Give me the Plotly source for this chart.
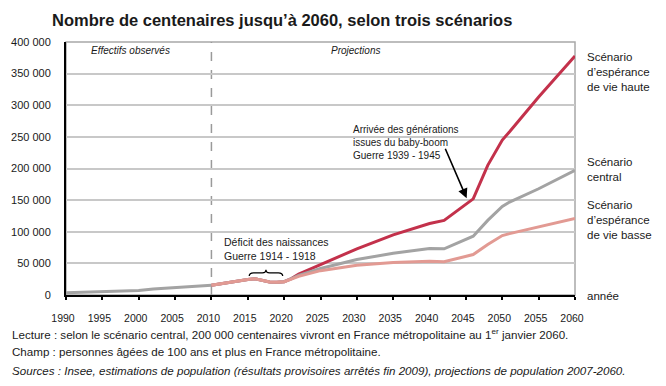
import plotly.graph_objects as go

# ---- data ----
years_obs = [1990, 1992, 1995, 1998, 2000, 2002, 2005, 2008, 2010]
obs = [3500, 4000, 5000, 6200, 7000, 9500, 12000, 14000, 15500]

years_proj = [2010, 2012, 2015, 2016, 2018, 2019, 2020, 2021, 2022, 2025, 2030,
              2035, 2040, 2042, 2046, 2048, 2050, 2051, 2055, 2060]
high = [15500, 19500, 24500, 25500, 20500, 20000, 21000, 26000, 33000, 48000, 73000,
        95000, 113000, 118000, 152000, 205000, 245000, 258000, 313000, 378000]
central = [15500, 19500, 24500, 25500, 20500, 20000, 21000, 26000, 31000, 42000, 56000,
           66000, 73500, 73000, 93000, 118000, 140000, 147000, 168000, 197000]
low = [15500, 19500, 24500, 25500, 20500, 20000, 21000, 25000, 29500, 38500, 47000,
       51500, 53500, 52500, 64000, 80000, 94000, 97000, 108000, 121000]

x_ticks = list(range(1990, 2061, 5))
y_ticks = list(range(0, 400001, 50000))
y_ticktext = ["0" if v == 0 else f"{v // 1000} 000" for v in y_ticks]

FONT = "Liberation Sans, Arial, sans-serif"
C_HIGH = "#C3314B"
C_CENT = "#A3A3A3"
C_LOW = "#E29A93"
C_OBS = "#A3A3A3"

W, H = 666, 386
L, R, T, B = 66, 91, 42, 91
PW, PH = W - L - R, H - T - B


def px(x):
    return (x - L) / PW


def py(y):
    return (H - B - y) / PH


fig = go.Figure()
fig.add_trace(go.Scatter(x=years_obs, y=obs, mode="lines",
                         line=dict(color=C_OBS, width=3), hoverinfo="skip"))
fig.add_trace(go.Scatter(x=years_proj, y=high, mode="lines",
                         line=dict(color=C_HIGH, width=3), hoverinfo="skip"))
fig.add_trace(go.Scatter(x=years_proj, y=central, mode="lines",
                         line=dict(color=C_CENT, width=3), hoverinfo="skip"))
fig.add_trace(go.Scatter(x=years_proj, y=low, mode="lines",
                         line=dict(color=C_LOW, width=3), hoverinfo="skip"))

shapes = [
    dict(type="rect", xref="paper", yref="paper", x0=0, x1=1, y0=0, y1=1,
         line=dict(color="#A8A8A8", width=1.5), layer="below"),
    dict(type="line", xref="x", yref="paper", x0=2010, x1=2010, y0=0, y1=1,
         line=dict(color="#9A9A9A", width=1.5, dash="dash"), layer="below"),
]
# brace over 2015-2020
bx0, bx1, by0, bh = 2015.2, 2019.8, 30000, 5000
bm = (bx0 + bx1) / 2
path = (f"M {bx0},{by0} Q {bx0},{by0+bh} {bx0+0.6},{by0+bh} "
        f"L {bm-0.5},{by0+bh} Q {bm},{by0+bh} {bm},{by0+2*bh} "
        f"Q {bm},{by0+bh} {bm+0.5},{by0+bh} "
        f"L {bx1-0.6},{by0+bh} Q {bx1},{by0+bh} {bx1},{by0}")
shapes.append(dict(type="path", xref="x", yref="y", path=path,
                   line=dict(color="black", width=1.3)))

ann = []


def txt(x, y, text, size=12, xref="paper", xanchor="left",
        yanchor="middle", italic=False, bold=False, align="left"):
    if italic:
        text = f"<i>{text}</i>"
    if bold:
        text = f"<b>{text}</b>"
    ann.append(dict(x=x, y=y, xref=xref, yref="paper", text=text, showarrow=False,
                    xanchor=xanchor, yanchor=yanchor, align=align,
                    font=dict(family=FONT, size=size, color="#1a1a1a")))


# title
txt(px(50), py(20), "Nombre de centenaires jusqu’à 2060, selon trois scénarios",
    size=16.5, bold=True)
# regions
txt(1998.9, py(50), "Effectifs observés", size=10, xref="x",
    xanchor="center", italic=True)
txt(2029.8, py(50), "Projections", size=10, xref="x",
    xanchor="center", italic=True)
# right labels
txt(px(585), py(72), "Scénario<br>d’espérance<br>de vie haute", size=11.5)
txt(px(585), py(169), "Scénario<br>central", size=11.5)
txt(px(585), py(220), "Scénario<br>d’espérance<br>de vie basse", size=11.5)
txt(px(585), py(296), "année", size=11.5)
# deficit annotation
txt(px(222), py(249), "Déficit des naissances<br>Guerre 1914 - 1918", size=10.5)
# baby-boom annotation
txt(px(351), py(142), "Arrivée des générations<br>issues du baby-boom<br>Guerre 1939 - 1945",
    size=10)
ann.append(dict(x=2045.1, y=153000, xref="x", yref="y", ax=-22, ay=-51,
                showarrow=True, arrowhead=2, arrowsize=1.2, arrowwidth=1.6,
                arrowcolor="black", text=""))
# footnotes
txt(px(10), py(334),
    "Lecture : selon le scénario central, 200 000 centenaires vivront en France métropolitaine au 1<sup>er</sup> janvier 2060.",
    size=11.6)
txt(px(10), py(351),
    "Champ : personnes âgées de 100 ans et plus en France métropolitaine.", size=11.6)
txt(px(10), py(370),
    "Sources : Insee, estimations de population (résultats provisoires arrêtés fin 2009), projections de population 2007-2060.",
    size=11.6, italic=True)

fig.update_layout(
    width=W, height=H,
    margin=dict(l=L, r=R, t=T, b=B),
    paper_bgcolor="white", plot_bgcolor="white",
    showlegend=False,
    font=dict(family=FONT, size=12, color="#1a1a1a"),
    shapes=shapes, annotations=ann,
    xaxis=dict(range=[1990, 2060], tickvals=x_ticks, ticks="outside", ticklen=3,
               tickwidth=2, tickcolor="black", showline=True, linecolor="black",
               linewidth=2, showgrid=False, zeroline=False, fixedrange=True,
               ticklabelstandoff=9, ticklabelshift=-3, tickfont=dict(size=10.5)),
    yaxis=dict(range=[0, 400000], tickvals=y_ticks, ticktext=y_ticktext,
               showline=True, linecolor="black", linewidth=2, showgrid=True,
               gridcolor="#C8C8C8", gridwidth=1.5, zeroline=False, ticks="",
               fixedrange=True, ticklabelstandoff=11, tickfont=dict(size=11)),
)

fig.write_html("out.html", config={"displayModeBar": False},
               post_script="document.body.style.margin='0';")
